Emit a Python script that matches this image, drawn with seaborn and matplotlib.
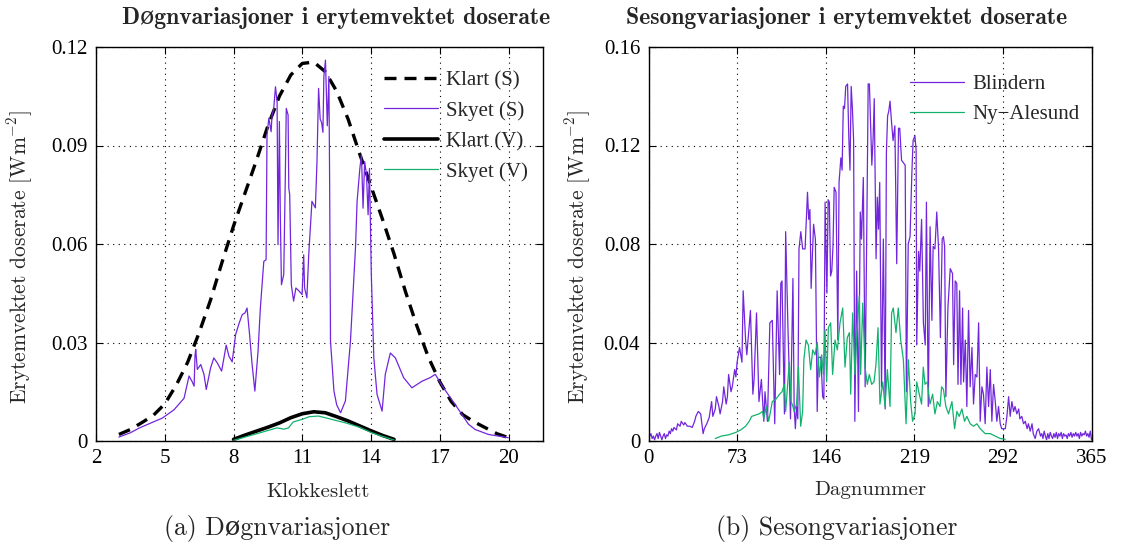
import matplotlib
matplotlib.use("Agg")
import matplotlib.pyplot as plt
import seaborn as sns
import numpy as np

# ---------------- data: left panel (hours) ----------------
clear_S_hours = [3, 3.5, 4, 4.5, 5, 5.5, 6, 6.5, 7, 7.5, 8, 8.5, 9, 9.5, 10, 10.5, 11, 11.5,
                 12, 12.5, 13, 13.5, 14, 14.5, 15, 15.5, 16, 16.5, 17, 17.5, 18, 18.5, 19, 19.5, 20]
clear_S = [0.0020, 0.0035, 0.0056, 0.0078, 0.0113, 0.0170, 0.0240, 0.0330, 0.0430, 0.0545,
           0.0655, 0.0755, 0.0855, 0.0960, 0.1050, 0.1115, 0.1150, 0.1154, 0.1125, 0.1065,
           0.0980, 0.0875, 0.0775, 0.0675, 0.0570, 0.0455, 0.0350, 0.0255, 0.0180, 0.0120,
           0.0080, 0.0058, 0.0040, 0.0022, 0.0010]

cloudy_S_hours = [3.0, 3.5, 3.9, 4.4, 4.9, 5.4, 5.84, 6.06, 6.2, 6.28, 6.32, 6.35, 6.42, 6.57, 6.71,
                  6.81, 7.0, 7.14, 7.29, 7.48, 7.68, 7.8, 7.94, 8.09, 8.25, 8.38, 8.5, 8.59, 8.70,
                  8.81, 8.93, 9.07, 9.17, 9.32, 9.42, 9.46, 9.54, 9.64, 9.68, 9.75, 9.83, 9.9, 9.94,
                  10.0, 10.04, 10.09, 10.19, 10.26, 10.30, 10.38, 10.41, 10.45, 10.52, 10.62, 10.72,
                  10.87, 10.99, 11.06, 11.10, 11.2, 11.28, 11.42, 11.57, 11.64, 11.71, 11.78, 11.84,
                  11.9, 11.94, 12.01, 12.09, 12.16, 12.19, 12.23, 12.38, 12.5, 12.67, 12.88, 13.1,
                  13.32, 13.39, 13.51, 13.58, 13.65, 13.72, 13.8, 13.87, 13.93, 14.01, 14.12, 14.26,
                  14.48, 14.62, 14.84, 15.06, 15.42, 15.78, 16.22, 16.58, 16.8, 17.16, 17.67, 18.25,
                  18.54, 19.12, 19.99]
cloudy_S = [0.0012, 0.0025, 0.0040, 0.0055, 0.0070, 0.0095, 0.0130, 0.0198, 0.0180, 0.0167, 0.0260,
            0.0279, 0.0218, 0.0233, 0.0203, 0.0157, 0.0223, 0.0253, 0.0238, 0.0213, 0.0292, 0.0258,
            0.0241, 0.0324, 0.0360, 0.0385, 0.0390, 0.0405, 0.0324, 0.0233, 0.0152, 0.0274, 0.0405,
            0.0547, 0.0552, 0.0932, 0.0983, 0.0942, 0.0993, 0.1010, 0.1079, 0.1033, 0.0598, 0.0973,
            0.0689, 0.0476, 0.0507, 0.0811, 0.1013, 0.0993, 0.0770, 0.0750, 0.0476, 0.0426, 0.0466,
            0.0456, 0.0446, 0.0567, 0.0466, 0.0436, 0.0567, 0.0730, 0.0710, 0.0851, 0.1074, 0.0980,
            0.0970, 0.0940, 0.1110, 0.1160, 0.0960, 0.1110, 0.0810, 0.0304, 0.0152, 0.0110, 0.0086,
            0.0122, 0.0304, 0.0588, 0.0730, 0.0830, 0.0871, 0.0709, 0.0851, 0.0810, 0.0689, 0.0830,
            0.0507, 0.0253, 0.0142, 0.0091, 0.0203, 0.0268, 0.0253, 0.0193, 0.0162, 0.0182, 0.0193,
            0.0203, 0.0162, 0.0111, 0.0051, 0.0035, 0.0020, 0.0010]

clear_V_hours = [8, 8.5, 9, 9.5, 10, 10.5, 11, 11.5, 12, 12.5, 13, 13.5, 14, 14.5, 15]
clear_V = [0.0005, 0.0018, 0.0030, 0.0042, 0.0055, 0.0071, 0.0083, 0.0089, 0.0086, 0.0074,
           0.0061, 0.0046, 0.0031, 0.0017, 0.0005]

cloudy_V_hours = [8, 8.5, 9, 9.5, 9.9, 10.2, 10.4, 10.6, 11, 11.3, 11.7, 12, 12.5, 12.9, 13.5,
                  14, 14.5, 15]
cloudy_V = [0.0002, 0.0012, 0.0022, 0.0032, 0.0040, 0.0036, 0.0040, 0.0058, 0.0066, 0.0074,
            0.0076, 0.0071, 0.0062, 0.0055, 0.0042, 0.0026, 0.0014, 0.0003]

left_xticks = [2, 5, 8, 11, 14, 17, 20]
left_yticks = [0, 0.03, 0.06, 0.09, 0.12]
left_yticklabels = ["0", "0.03", "0.06", "0.09", "0.12"]

# ---------------- data: right panel (day of year) ----------------
blindern_days = list(range(0, 21)) + [
    21, 23, 24, 26, 27, 29, 30, 32, 34, 36, 38, 39, 41, 43, 45, 46, 48, 50, 52, 53, 55, 56, 58, 59,
    61, 62, 64, 65, 66, 68, 69, 71, 72, 73, 75, 77, 78, 80, 81, 84, 86, 87, 89, 91, 93, 95, 96, 98,
    100, 102, 104, 106, 108, 109, 110, 112, 113, 115, 117, 119,
    120, 121, 122, 123, 124, 125.5, 127, 129, 130, 131, 132, 133, 134, 136, 137.5, 139, 140, 142,
    143.5, 144.5, 145.5, 147, 148, 149, 150, 151, 152, 153, 154.5, 156, 157, 158.5, 159.5, 160.5,
    161.5, 162.5, 164, 165, 166, 167, 168, 169, 170, 171.5, 173, 174.5, 175.5, 177, 178.5, 180,
    181, 182, 183, 184, 185, 186, 187.5, 188.5, 189.5, 190.5, 192, 193.5, 195, 196, 197, 198, 199,
    200, 201.5, 203, 204.5, 206, 207, 208.5, 210, 211.5, 212.5, 214, 215.5, 217, 218, 219.5, 220.5,
    221, 222.5, 223.5, 225, 226.5, 228, 229, 230.5, 232, 233.5, 234.5, 236, 237.5, 239, 240.5, 242,
    243, 244, 245, 246.7, 248.6, 250.5, 251.4, 252.7, 254, 255, 256.3, 257.4, 258.8, 259.6, 261,
    262.3, 263.7, 265, 266.5, 267.8, 269.2, 270.6, 272, 273.3, 274.7, 276, 277.4, 278.8, 280.2,
    281.6, 282.9, 284.3, 285.7, 287, 288.4, 289.8, 291, 292.5, 294, 295.3, 296.7, 298, 299.4,
    300.8, 302, 303.5, 305, 306, 307.6, 309, 310.4, 312, 313, 314.5, 316, 317, 318.6, 320, 321.4,
    323] + list(range(324, 366))
blindern = [
    0.003, 0.002, 0.003, 0.001, 0.002, 0.0005, 0.002, 0.003, 0.001, 0.0035, 0.002, 0.0005, 0.002,
    0.003, 0.001, 0.0025, 0.002, 0.004, 0.003, 0.005, 0.004,
    0.0055, 0.0045, 0.007, 0.006, 0.008, 0.0065, 0.0075, 0.006, 0.006, 0.0055, 0.008, 0.010, 0.012,
    0.011, 0.003, 0.005, 0.007, 0.0095, 0.016, 0.010, 0.013, 0.018, 0.014, 0.011, 0.016, 0.022,
    0.015, 0.018, 0.027, 0.020, 0.022, 0.029, 0.026, 0.032, 0.038, 0.032, 0.061, 0.041, 0.035,
    0.053, 0.019, 0.025, 0.052, 0.016, 0.025, 0.008, 0.020, 0.008, 0.048, 0.049, 0.007, 0.061,
    0.027, 0.064, 0.065, 0.011, 0.085, 0.044, 0.009, 0.066,
    0.014, 0.005, 0.014, 0.009, 0.078, 0.085, 0.078, 0.078, 0.090, 0.101, 0.090, 0.094, 0.062,
    0.088, 0.082, 0.012, 0.034, 0.034, 0.018, 0.017, 0.097, 0.060, 0.098, 0.097, 0.067, 0.069,
    0.079, 0.103, 0.101, 0.041, 0.105, 0.115, 0.110, 0.136, 0.135, 0.144, 0.145, 0.124, 0.110,
    0.144, 0.135, 0.122, 0.008, 0.069, 0.012, 0.093, 0.082, 0.107, 0.022, 0.093, 0.145, 0.145,
    0.128, 0.112, 0.122, 0.139, 0.074, 0.099, 0.086, 0.105, 0.022, 0.082, 0.013, 0.117, 0.132,
    0.134, 0.138, 0.131, 0.122, 0.128, 0.072, 0.127, 0.127, 0.114, 0.113, 0.112, 0.020, 0.080,
    0.083, 0.109, 0.122, 0.124, 0.118, 0.039, 0.077, 0.069, 0.090, 0.048, 0.039, 0.097, 0.014,
    0.087, 0.049, 0.079, 0.078, 0.093, 0.078, 0.042, 0.082, 0.083, 0.079, 0.018, 0.054, 0.070,
    0.068, 0.031, 0.065, 0.064, 0.023, 0.061, 0.023, 0.054, 0.024, 0.041, 0.014, 0.053, 0.022,
    0.038, 0.015, 0.027, 0.026, 0.048, 0.008, 0.022, 0.019, 0.007, 0.030, 0.014, 0.029, 0.008,
    0.023, 0.016, 0.008, 0.014, 0.007, 0.005, 0.005, 0.005, 0.010, 0.018, 0.010, 0.016, 0.012,
    0.014, 0.011, 0.013, 0.009, 0.010, 0.007, 0.008, 0.005, 0.007, 0.004, 0.007, 0.003, 0.001,
    0.004, 0.005, 0.002,
    0.003, 0.001, 0.004, 0.002, 0.0005, 0.003, 0.001, 0.0035, 0.002, 0.001, 0.003, 0.0015, 0.0035,
    0.001, 0.003, 0.002, 0.0035, 0.001, 0.003, 0.002, 0.0025, 0.001, 0.003, 0.002, 0.0035, 0.0015,
    0.003, 0.002, 0.0035, 0.002, 0.003, 0.001, 0.0035, 0.002, 0.003, 0.0025, 0.004, 0.002, 0.003,
    0.0015, 0.004, 0.0005]

nyalesund_days = [
    55, 60, 66, 72, 76, 80, 83, 85, 88, 91, 94, 95, 97, 99, 102, 105, 108, 110, 112, 113, 116,
    117.5, 119, 120, 122, 123.5, 125.4, 127, 128, 129.8, 131.7, 133.6, 135.3, 137.2, 139.1, 140.8,
    142.7, 144.1, 145.4, 146.8, 148.2, 150.1, 151.7, 153.7, 155.6, 157.8, 160, 161.9, 163.8, 165.5,
    166.6, 168.2, 170.1, 171.5, 173.7, 174.8, 176.5, 178.4, 180.3, 181.9, 183.9, 185.8, 187.4,
    189.1, 190.7, 193, 194.9, 196.8, 199, 200.3, 201.7, 203.9, 205.8, 207.8, 210, 212.2, 214.1,
    216, 217.6, 219.6, 221, 223.1, 225, 226.4, 227.8, 229.7, 231.9, 234.1, 236, 238, 240.2, 241.5,
    243, 245, 247.2, 250, 252.2, 254.1, 256, 258.2, 260.4, 262.3, 265, 267.8, 270.6, 273.3, 277.4,
    281.6, 285.7, 289.8, 293.9]
nyalesund = [
    0.001, 0.002, 0.0025, 0.0035, 0.0045, 0.006, 0.008, 0.010, 0.0105, 0.011, 0.012, 0.009, 0.014,
    0.008, 0.016, 0.017, 0.019, 0.020, 0.023, 0.012, 0.032, 0.016, 0.014, 0.012, 0.015, 0.030,
    0.006, 0.012, 0.033, 0.041, 0.039, 0.029, 0.037, 0.035, 0.040, 0.026, 0.035, 0.027, 0.045,
    0.024, 0.046, 0.048, 0.027, 0.041, 0.037, 0.048, 0.054, 0.030, 0.042, 0.044, 0.019, 0.052,
    0.027, 0.042, 0.059, 0.027, 0.056, 0.030, 0.023, 0.027, 0.023, 0.024, 0.031, 0.046, 0.015,
    0.024, 0.014, 0.029, 0.014, 0.052, 0.054, 0.044, 0.054, 0.041, 0.033, 0.007, 0.033, 0.016,
    0.008, 0.011, 0.024, 0.019, 0.015, 0.030, 0.023, 0.024, 0.015, 0.019, 0.011, 0.016, 0.014,
    0.022, 0.021, 0.014, 0.011, 0.016, 0.005, 0.012, 0.010, 0.013, 0.008, 0.010, 0.007, 0.006,
    0.007, 0.005, 0.003, 0.003, 0.002, 0.001, 0.0007]

right_xticks = [0, 73, 146, 219, 292, 365]
right_yticks = [0, 0.04, 0.08, 0.12, 0.16]
right_yticklabels = ["0", "0.04", "0.08", "0.12", "0.16"]

# ---------------- styling ----------------
sns.set_theme(style="ticks")
plt.rcParams["font.family"] = ["Liberation Serif", "DejaVu Serif"]
plt.rcParams["mathtext.fontset"] = "cm"

CM = ["cmr10", "DejaVu Serif"]
CMB = ["cmb10", "DejaVu Serif"]
PURPLE = "#7126dc"
GREEN = "#12b26e"

fig = plt.figure(figsize=(11.22, 5.47), dpi=100)
axL = fig.add_axes([96 / 1122, 106 / 547, 447 / 1122, 394 / 547])
axR = fig.add_axes([648.5 / 1122, 106 / 547, 443 / 1122, 394 / 547])

sns.lineplot(x=clear_S_hours, y=clear_S, ax=axL, color="black", linewidth=2.4,
             label="Klart (S)", estimator=None, sort=False)
axL.lines[-1].set_dashes((3.6, 2.4))
sns.lineplot(x=cloudy_S_hours, y=cloudy_S, ax=axL, color=PURPLE, linewidth=0.9,
             label="Skyet (S)", estimator=None, sort=False)
sns.lineplot(x=clear_V_hours, y=clear_V, ax=axL, color="black", linewidth=2.6,
             label="Klart (V)", estimator=None, sort=False)
sns.lineplot(x=cloudy_V_hours, y=cloudy_V, ax=axL, color=GREEN, linewidth=0.9,
             label="Skyet (V)", estimator=None, sort=False)

sns.lineplot(x=blindern_days, y=blindern, ax=axR, color=PURPLE, linewidth=0.9,
             label="Blindern", estimator=None, sort=False)
sns.lineplot(x=nyalesund_days, y=nyalesund, ax=axR, color=GREEN, linewidth=0.9,
             label="Ny\u2212Alesund", estimator=None, sort=False)

for ax, xt, yt, ytl, xl, yl in [
        (axL, left_xticks, left_yticks, left_yticklabels, (2, 21.5), (0, 0.12)),
        (axR, right_xticks, right_yticks, right_yticklabels, (0, 365), (0, 0.16))]:
    ax.set_xlim(*xl)
    ax.set_ylim(*yl)
    ax.set_xticks(xt)
    ax.set_xticklabels([str(v) for v in xt])
    ax.set_yticks(yt)
    ax.set_yticklabels(ytl)
    ax.tick_params(direction="in", top=True, right=True, length=5, width=0.8,
                   labelsize=15, pad=6, colors="black")
    ax.grid(True, linestyle=(0, (1, 4)), color="black", linewidth=0.8)
    for s in ax.spines.values():
        s.set_linewidth(1.0)
        s.set_color("black")
    ax.set_xlabel("")
    ax.set_ylabel("")

legL = axL.legend(loc="upper left", bbox_to_anchor=(0.644, 0.94), frameon=False,
                  fontsize=15, handlelength=2.6, handletextpad=0.4, borderpad=0,
                  borderaxespad=0, labelspacing=0.52)
legR = axR.legend(loc="upper left", bbox_to_anchor=(0.59, 0.93), frameon=False,
                  fontsize=15, handlelength=2.6, handletextpad=0.4, borderpad=0,
                  borderaxespad=0, labelspacing=0.5)
for h in legL.get_lines()[:1]:
    h.set_dashes((3.6, 2.4))

fig.text(336 / 1122, 1 - 18 / 547, "Døgnvariasjoner i erytemvektet doserate",
         ha="center", va="center", fontsize=17, family=CMB)
fig.text(846.5 / 1122, 1 - 18 / 547, "Sesongvariasjoner i erytemvektet doserate",
         ha="center", va="center", fontsize=17, family=CMB)

ylab = "Erytemvektet doserate [Wm$^{-2}$]"
fig.text(20 / 1122, 1 - 257 / 547, ylab, rotation=90, ha="center", va="center",
         fontsize=15.5, family=CM)
fig.text(578 / 1122, 1 - 257 / 547, ylab, rotation=90, ha="center", va="center",
         fontsize=15.5, family=CM)
fig.text(318 / 1122, 1 - 492 / 547, "Klokkeslett", ha="center", va="center",
         fontsize=15, family=CM)
fig.text(870 / 1122, 1 - 490 / 547, "Dagnummer", ha="center", va="center",
         fontsize=15, family=CM)
fig.text(277 / 1122, 1 - 529 / 547, "(a) Døgnvariasjoner", ha="center", va="center",
         fontsize=18.5, family=CM)
fig.text(837 / 1122, 1 - 529 / 547, "(b) Sesongvariasjoner", ha="center", va="center",
         fontsize=18.5, family=CM)

fig.savefig("out.png", dpi=100, facecolor="white")
